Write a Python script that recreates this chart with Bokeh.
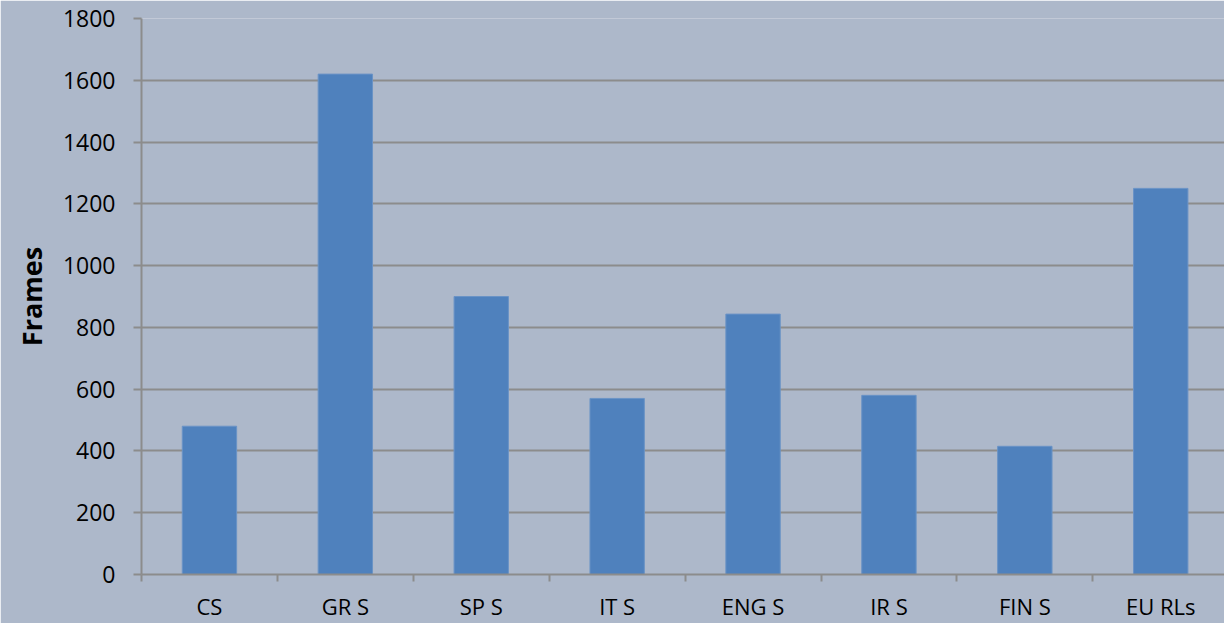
from bokeh.plotting import figure
from bokeh.models import Range1d, FixedTicker, ColumnDataSource
from bokeh.embed import file_html
from bokeh.resources import INLINE

categories = ["CS", "GR S", "SP S", "IT S", "ENG S", "IR S", "FIN S", "EU RLs"]
frames = [480, 1620, 900, 570, 843, 580, 415, 1250]
y_ticks = [0, 200, 400, 600, 800, 1000, 1200, 1400, 1600, 1800]

BG = "#ADB8CA"
BAR = "#4F81BD"
GRID = "#8C8C8C"

xs = [i + 0.5 for i in range(len(categories))]
src = ColumnDataSource(dict(x=xs, top=frames, cat=categories))

W, H = 1224, 623
left, top, bottom = 141, 18, 48
frame_w = W - left
n = len(categories)
slot = 135.9
x_max = frame_w / slot

p = figure(width=W, height=H, output_backend="svg", toolbar_location=None,
           x_range=Range1d(0, x_max), y_range=Range1d(0, 1800),
           min_border_left=left, min_border_top=top, min_border_bottom=bottom,
           min_border_right=0)
p.background_fill_color = BG
p.border_fill_color = BG
p.outline_line_color = None

p.vbar(x="x", top="top", width=0.4, bottom=0, source=src,
       fill_color=BAR, line_color="#6A93C6", line_width=1)

p.xgrid.visible = False
p.ygrid.ticker = FixedTicker(ticks=y_ticks)
p.ygrid.grid_line_color = GRID
p.ygrid.grid_line_width = 2

# x axis
p.xaxis.ticker = FixedTicker(ticks=xs, minor_ticks=list(range(n + 1)))
p.xaxis.major_label_overrides = {x: c for x, c in zip(xs, categories)}
p.xaxis.major_tick_out = 0
p.xaxis.major_tick_in = 0
p.xaxis.minor_tick_out = 7
p.xaxis.minor_tick_in = 0
p.xaxis.minor_tick_line_color = GRID
p.xaxis.minor_tick_line_width = 2
p.xaxis.axis_line_color = GRID
p.xaxis.axis_line_width = 2
p.xaxis.major_label_text_font = "Open Sans"
p.xaxis.major_label_text_font_size = "22px"
p.xaxis.major_label_text_color = "black"
p.xaxis.major_label_standoff = 9

# y axis
p.yaxis.ticker = FixedTicker(ticks=y_ticks)
p.yaxis.major_tick_out = 8
p.yaxis.major_tick_in = 0
p.yaxis.minor_tick_line_color = None
p.yaxis.major_tick_line_color = GRID
p.yaxis.major_tick_line_width = 2
p.yaxis.axis_line_color = GRID
p.yaxis.axis_line_width = 2
p.yaxis.major_label_text_font = "Open Sans"
p.yaxis.major_label_text_font_size = "23px"
p.yaxis.major_label_text_color = "black"
p.yaxis.major_label_standoff = 18
p.yaxis.axis_label = "Frames"
p.yaxis.axis_label_text_font = "Open Sans"
p.yaxis.axis_label_text_font_style = "bold"
p.yaxis.axis_label_text_font_size = "27px"
p.yaxis.axis_label_text_color = "black"
p.yaxis.axis_label_standoff = 10

open("out.html", "w").write(file_html(p, INLINE))
